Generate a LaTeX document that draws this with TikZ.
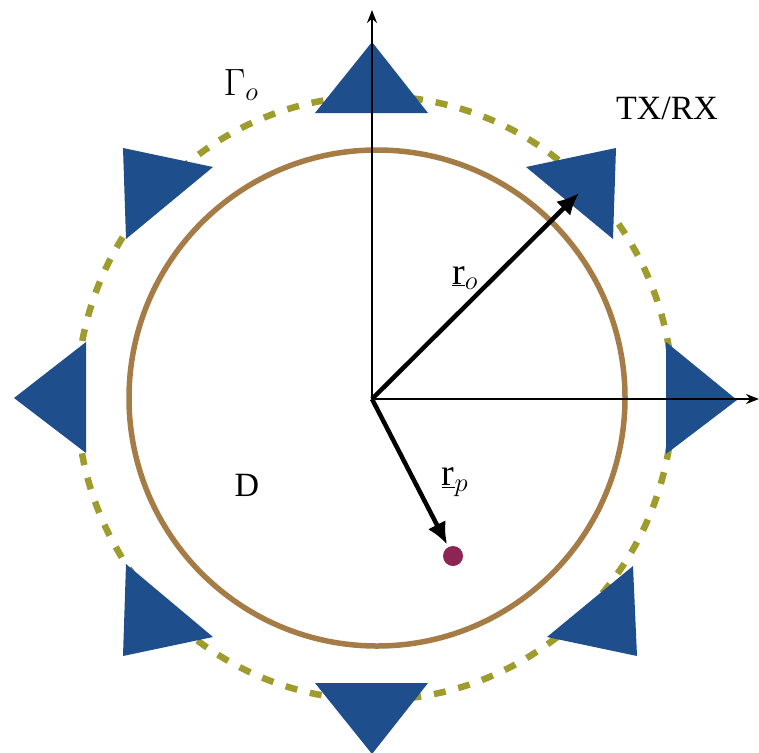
\RequirePackage{fix-cm}
\documentclass[tikz,border=0pt]{standalone}
\usepackage{fontspec}
\setmainfont{Liberation Serif}
\usetikzlibrary{arrows.meta}
\definecolor{triblue}{HTML}{1F4E8C}
\definecolor{ringbrown}{HTML}{A67C46}
\definecolor{dasholive}{HTML}{9E9C2C}
\definecolor{dotred}{HTML}{8E2454}
\begin{document}
\begin{tikzpicture}[x=1pt,y=-1pt,
  antenna/.style={fill=triblue,draw=none},
  ring/.style={draw=ringbrown,line width=5.5pt},
  dashring/.style={draw=dasholive,line width=6.5pt,dash pattern=on 12pt off 13pt},
  axisline/.style={line width=2pt,-{Stealth[length=13pt,width=10pt]}},
  vec/.style={line width=4.5pt,-{Latex[length=22pt,width=20pt]}},
  lbl/.style={font=\fontsize{34}{40}\selectfont,inner sep=0pt},
  mlbl/.style={font=\fontsize{38}{44}\selectfont,inner sep=0pt},
  pt/.style={circle,fill=dotred,minimum size=20pt,inner sep=0pt}]
\useasboundingbox (0,0) rectangle (759,752);
% dashed outer boundary
\draw[dashring] (375,398) ellipse [x radius=298, y radius=302];
% domain D
\draw[ring] (377,398) circle [radius=248];
% TX/RX antennas
\fill[antenna] (315,113) -- (428,113) -- (372,42) -- cycle;
\fill[antenna] (666,342) -- (666,454) -- (737,400) -- cycle;
\fill[antenna] (86,342) -- (86,453) -- (14,398) -- cycle;
\fill[antenna] (315,683) -- (428,683) -- (372,754) -- cycle;
\fill[antenna] (526,167) -- (613,239) -- (616,148) -- cycle;
\fill[antenna] (213,167) -- (126,239) -- (123,148) -- cycle;
\fill[antenna] (126,564) -- (213,637) -- (123,656) -- cycle;
\fill[antenna] (633,566) -- (547,637) -- (637,656) -- cycle;
% axes
\coordinate (O) at (372,399);
\coordinate (ytop) at (372,10);
\coordinate (xend) at (759,399);
\draw[axisline] (O) -- (ytop);
\draw[axisline] (O) -- (xend);
% vectors
\coordinate (ro) at (579,193);
\node[pt] (P) at (453,556) {};
\draw[vec] (O) -- (ro);
\draw[vec,shorten >=13pt] (O) -- (P.center);
% labels
\node[mlbl] (gamma) at (241,85) {$\Gamma_{o}$};
\node[lbl] (txrx) at (667,108) {TX/RX};
\node[lbl] (D) at (247,485) {D};
\node[mlbl] (rolbl) at (465,278) {$\underline{\mbox{r}}_{o}$};
\node[mlbl] (rplbl) at (455,482) {$\underline{\mbox{r}}_{p}$};
\end{tikzpicture}
\end{document}
